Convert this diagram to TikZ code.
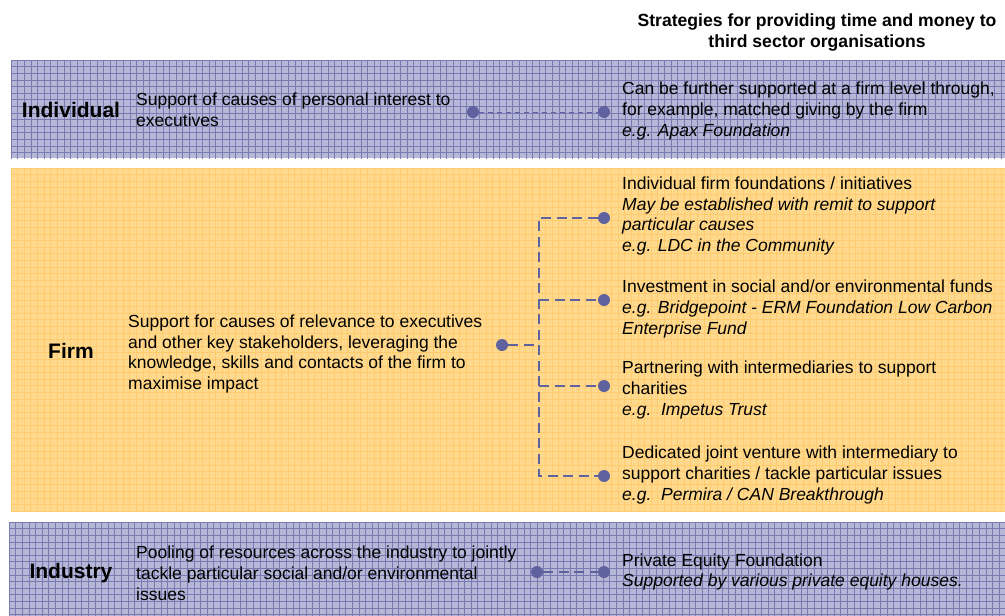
\documentclass[tikz,border=0pt]{standalone}
\usepackage{fontspec}
\setmainfont{Liberation Sans}
\definecolor{bluefill}{RGB}{182,182,214}
\definecolor{blueline}{RGB}{122,122,178}
\definecolor{orfill}{RGB}{255,218,142}
\definecolor{orline}{RGB}{255,203,110}
\definecolor{dotc}{RGB}{96,98,160}
\tikzset{
  txt/.style={anchor=west,inner sep=0pt,align=left,font=\fontsize{17.5}{20.8}\selectfont},
  lbl/.style={inner sep=0pt,font=\fontsize{21}{24}\selectfont\bfseries},
  ttl/.style={inner sep=0pt,align=center,font=\fontsize{17.6}{21}\selectfont\bfseries},
  dot/.style={circle,fill=dotc,inner sep=0pt,minimum size=12pt},
  conn/.style={draw=dotc,dash pattern=on 10pt off 5.5pt,line width=1.7pt},
  thinconn/.style={draw=dotc,dash pattern=on 5pt off 4pt,line width=1pt},
}
\begin{document}
\begin{tikzpicture}[x=1pt,y=-1pt]
\useasboundingbox (0,0) rectangle (1005,616);
% boxes
\begin{scope}
\clip (11,60) rectangle (1005,158);
\fill[bluefill] (11,60) rectangle (1005,158);
\draw[blueline,line width=0.5pt,shift={(11,60)}] (0,0) grid[step=6.6pt] (1000,110);
\end{scope}
\begin{scope}
\clip (11,168) rectangle (1005,511);
\fill[orfill] (11,168) rectangle (1005,511);
\draw[orline,line width=0.7pt,shift={(11,168)}] (0,0) grid[step=6.6pt] (1000,350);
\end{scope}
\begin{scope}
\clip (9,522) rectangle (1005,616);
\fill[bluefill] (9,522) rectangle (1005,616);
\draw[blueline,line width=0.5pt,shift={(9,522)}] (0,0) grid[step=6.6pt] (1000,100);
\end{scope}
% title
\node[ttl] (title) at (817,32) {Strategies for providing time and money to\\third sector organisations};
% Individual
\node[lbl] (ind) at (71,110) {Individual};
\node[txt] (indt) at (136,110) {Support of causes of personal interest to\\executives};
\node[dot] (i1) at (473,112) {};
\node[dot] (i2) at (604,112) {};
\draw[thinconn] (i1) -- (i2);
\node[txt] (indr) at (622,111) {Can be further supported at a firm level through,\\for example, matched giving by the firm\\\textit{e.g. Apax Foundation}};
% Firm
\node[lbl] (firm) at (71,351) {Firm};
\node[txt] (firmt) at (128,354) {Support for causes of relevance to executives\\and other key stakeholders, leveraging the\\knowledge, skills and contacts of the firm to\\maximise impact};
\node[dot] (f0) at (502,345) {};
\coordinate (bus) at (539,345);
\coordinate (bustop) at (539,218);
\coordinate (busbot) at (539,476);
\node[dot] (f1) at (604,218) {};
\node[dot] (f2) at (604,300) {};
\node[dot] (f3) at (604,386) {};
\node[dot] (f4) at (604,476) {};
\draw[conn] (f0) -- (bus);
\draw[conn] (f1) -- (bustop) -- (busbot) -- (f4);
\draw[conn] (bus |- f2) -- (f2);
\draw[conn] (bus |- f3) -- (f3);
\node[txt] (fr1) at (622,216) {Individual firm foundations / initiatives\\\textit{May be established with remit to support}\\\textit{particular causes}\\\textit{e.g. LDC in the Community}};
\node[txt] (fr2) at (622,309) {Investment in social and/or environmental funds\\\textit{e.g. Bridgepoint - ERM Foundation Low Carbon}\\\textit{Enterprise Fund}};
\node[txt] (fr3) at (622,390) {Partnering with intermediaries to support\\charities\\\textit{e.g.\ \ Impetus Trust}};
\node[txt] (fr4) at (622,475) {Dedicated joint venture with intermediary to\\support charities / tackle particular issues\\\textit{e.g.\ \ Permira / CAN Breakthrough}};
% Industry
\node[lbl] (indu) at (71,573) {Industry};
\node[txt] (indut) at (136,573) {Pooling of resources across the industry to jointly\\tackle particular social and/or environmental\\issues};
\node[dot] (u1) at (537,572) {};
\node[dot] (u2) at (604,572) {};
\draw[conn] (u1) -- (u2);
\node[txt] (indur) at (622,572) {Private Equity Foundation\\\textit{Supported by various private equity houses.}};
\end{tikzpicture}
\end{document}
